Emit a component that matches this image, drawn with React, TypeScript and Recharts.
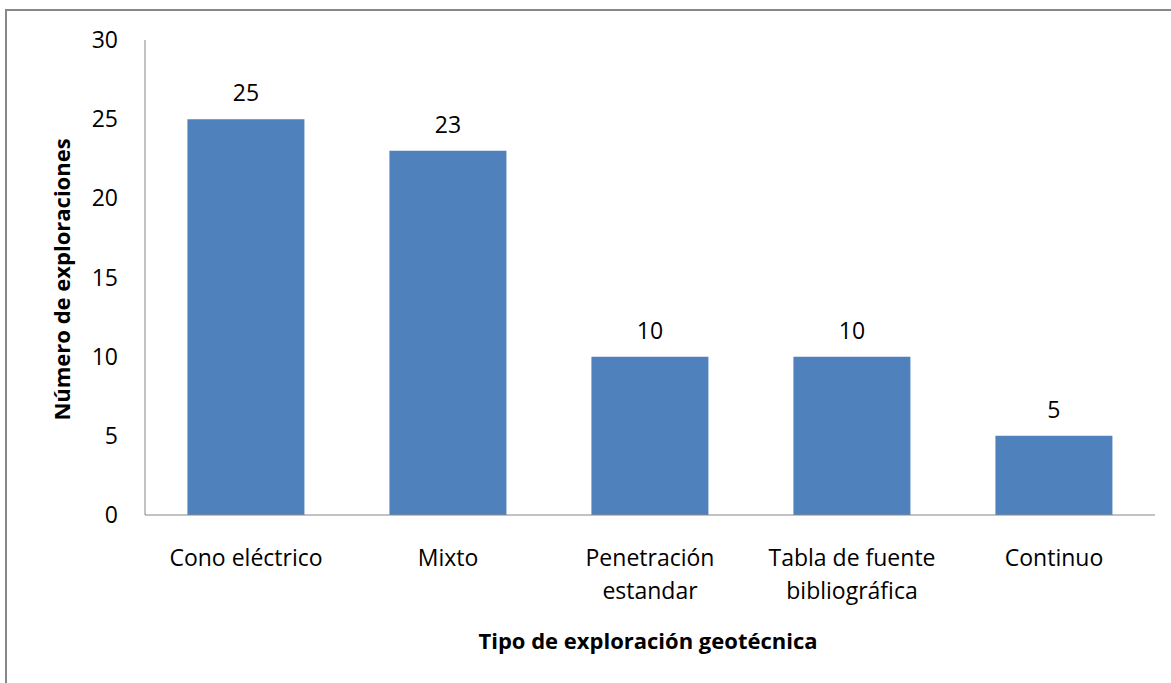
import { BarChart, Bar, XAxis, YAxis, Label, LabelList } from 'recharts'

// Exploraciones por tipo
const categories = ['Cono eléctrico', 'Mixto', 'Penetración estandar', 'Tabla de fuente bibliográfica', 'Continuo']
const counts = [25, 23, 10, 10, 5]
const yTicks = [0, 5, 10, 15, 20, 25, 30]

// split long labels onto two lines like the original
const tickLines: Record<string, string[]> = {
  'Penetración estandar': ['Penetración', 'estandar'],
  'Tabla de fuente bibliográfica': ['Tabla de fuente', 'bibliográfica'],
}

const FONT = '"Open Sans", sans-serif'

function CategoryTick(props: any) {
  const { x, y, payload } = props
  const lines = tickLines[payload.value] || [payload.value]
  return (
    <text x={x} y={y} textAnchor="middle" fontFamily={FONT} fontSize={23} fill="#000">
      {lines.map((line, i) => (
        <tspan key={i} x={x} dy={i === 0 ? 43 : 33}>
          {line}
        </tspan>
      ))}
    </text>
  )
}

export default function App() {
  const data = categories.map((name, i) => ({ name, value: counts[i] }))

  return (
    <div style={{ position: 'absolute', left: 0, top: 0, width: 1171, height: 683, background: '#fff', overflow: 'hidden' }}>
      <div
        style={{
          position: 'absolute',
          left: 5,
          top: 9,
          width: 1200,
          height: 700,
          borderLeft: '2px solid #888',
          borderTop: '2px solid #888',
        }}
      />
      <BarChart
        width={1171}
        height={683}
        data={data}
        margin={{ top: 40, right: 16, bottom: 0, left: 0 }}
        barCategoryGap="21%"
        style={{ position: 'absolute', left: 0, top: 0 }}
      >
        <XAxis
          dataKey="name"
          height={168}
          stroke="#868686"
          tickLine={false}
          interval={0}
          tick={<CategoryTick />}
        >
          <Label
            value="Tipo de exploración geotécnica"
            position="center"
            dx={-2}
            dy={42}
            style={{ fontFamily: FONT, fontSize: 22, fontWeight: 700, fill: '#000' }}
          />
        </XAxis>
        <YAxis
          width={145}
          domain={[0, 30]}
          ticks={yTicks}
          stroke="#868686"
          tickLine={false}
          tickSize={0}
          tickMargin={27}
          tick={{ fontFamily: FONT, fontSize: 23, fill: '#000' }}
        >
          <Label
            value="Número de exploraciones"
            position="center"
            angle={-90}
            dx={-10}
            dy={2}
            style={{ fontFamily: FONT, fontSize: 22, fontWeight: 700, fill: '#000', textAnchor: 'middle' }}
          />
        </YAxis>
        <Bar dataKey="value" fill="#4F81BD" isAnimationActive={false}>
          <LabelList dataKey="value" position="top" offset={18} style={{ fontFamily: FONT, fontSize: 23, fill: '#000' }} />
        </Bar>
      </BarChart>
    </div>
  )
}
